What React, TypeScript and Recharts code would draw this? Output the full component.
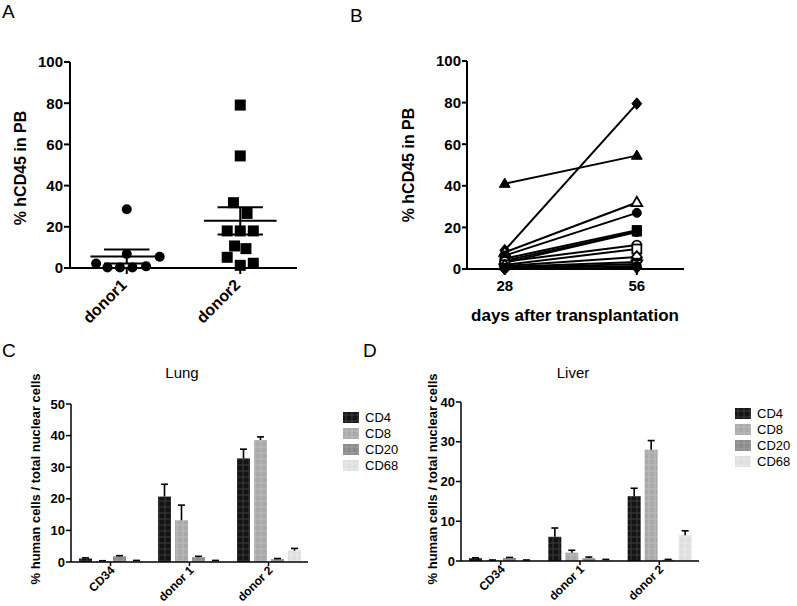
import React from 'react';
import {
  ScatterChart,
  Scatter,
  LineChart,
  Line,
  BarChart,
  Bar,
  XAxis,
  YAxis,
  ReferenceLine,
  Legend,
} from 'recharts';

const FONT = '"Liberation Sans", Arial, Helvetica, sans-serif';

// ---- panel A: % hCD45 per donor (points jittered around the category) ----
const donorNames = ['donor1', 'donor2'];
const donor1Values = [28.5, 6.8, 5.5, 2.2, 0.3, 0.3, 0.3, 0.8];
const donor1Jitter = [0, 0, 0.29, -0.27, -0.17, -0.06, 0.05, 0.17];
const donor2Values = [79.1, 54.4, 31.7, 26.5, 18, 18, 18, 10.7, 9.4, 5.2, 2.3, 1.3];
const donor2Jitter = [0, 0, -0.06, 0.06, -0.115, 0, 0.115, -0.05, 0.05, -0.115, 0.115, 0];
const percentTicks = [0, 20, 40, 60, 80, 100];

// ---- panel B: paired values per mouse at day 28 / day 56 ----
const days = [28, 56];
const mouseDay28 = [9, 41, 8, 6.5, 5, 4, 3, 3.5, 2, 1.5, 1, 0.5, 0.3, 0];
const mouseDay56 = [79.5, 54.5, 32, 27, 18.7, 18, 17.8, 11.5, 9.6, 5.8, 3.4, 2.4, 1.4, 0.6];
const mouseMarker = [
  'diamond', 'triangle', 'triangle', 'circle', 'square', 'square', 'circle',
  'circle', 'square', 'diamond', 'triangleDown', 'triangleDown', 'circle', 'diamond',
];
const mouseFilled = [true, true, false, true, true, true, true, false, false, false, true, false, true, true];

// ---- panels C / D: cell subsets in lung and liver ----
const organCategories = ['CD34', 'donor 1', 'donor 2'];
const subsetNames = ['CD4', 'CD8', 'CD20', 'CD68'];

const lungCD4 = [1.1, 20.7, 32.8];
const lungCD4Err = [0.2, 3.9, 2.9];
const lungCD8 = [0.3, 13.2, 38.6];
const lungCD8Err = [0.1, 4.8, 1.0];
const lungCD20 = [1.8, 1.5, 0.9];
const lungCD20Err = [0.2, 0.3, 0.2];
const lungCD68 = [0.4, 0.4, 3.6];
const lungCD68Err = [0.1, 0.1, 0.7];

const liverCD4 = [0.7, 6.1, 16.3];
const liverCD4Err = [0.1, 2.2, 2.0];
const liverCD8 = [0.2, 2.1, 28.0];
const liverCD8Err = [0.05, 0.6, 2.3];
const liverCD20 = [0.8, 0.7, 0.3];
const liverCD20Err = [0.1, 0.3, 0.1];
const liverCD68 = [0.2, 0.3, 6.5];
const liverCD68Err = [0.05, 0.1, 1.1];

const subsetPattern: Record<string, [string, string]> = {
  CD4: ['#141414', '#3c3c3c'],
  CD8: ['#a9a9a9', '#bdbdbd'],
  CD20: ['#8b8b8b', '#9f9f9f'],
  CD68: ['#dedede', '#ececec'],
};

const mean = (v: number[]) => v.reduce((s, x) => s + x, 0) / v.length;
const sem = (v: number[]) => {
  const m = mean(v);
  const sd = Math.sqrt(v.reduce((s, x) => s + (x - m) ** 2, 0) / (v.length - 1));
  return sd / Math.sqrt(v.length);
};

const donor1Points = donor1Values.map((y, i) => ({ x: 1 + donor1Jitter[i], y }));
const donor2Points = donor2Values.map((y, i) => ({ x: 2 + donor2Jitter[i], y }));
const donorStats = [donor1Values, donor2Values].map((v, i) => ({
  pos: i + 1,
  mean: mean(v),
  sem: sem(v),
}));

const mouseRows = days.map((day, d) => {
  const row: Record<string, number> = { day };
  mouseDay28.forEach((_, m) => {
    row[`m${m}`] = d === 0 ? mouseDay28[m] : mouseDay56[m];
  });
  return row;
});

const buildOrganRows = (series: number[][], errs: number[][]) =>
  organCategories.map((name, i) => {
    const row: Record<string, any> = { name };
    subsetNames.forEach((s, k) => {
      row[s] = series[k][i];
      row[`${s}Err`] = errs[k][i];
    });
    return row;
  });

const lungRows = buildOrganRows(
  [lungCD4, lungCD8, lungCD20, lungCD68],
  [lungCD4Err, lungCD8Err, lungCD20Err, lungCD68Err]
);
const liverRows = buildOrganRows(
  [liverCD4, liverCD8, liverCD20, liverCD68],
  [liverCD4Err, liverCD8Err, liverCD20Err, liverCD68Err]
);

// ---- small drawing helpers ----
const SlantTick = (props: any) => {
  const { x, y, payload, fontSize, dx, dy, formatter } = props;
  const label = formatter ? formatter(payload.value) : payload.value;
  return (
    <g transform={`translate(${x + dx},${y + dy})`}>
      <text
        textAnchor="end"
        transform="rotate(-45)"
        fontSize={fontSize}
        fontWeight={700}
        fontFamily={FONT}
        fill="#000"
      >
        {label}
      </text>
    </g>
  );
};

const Marker = ({ cx, cy, kind, filled }: any) => {
  const r = 4.5;
  const style = { fill: filled ? '#000' : '#fff', stroke: '#000', strokeWidth: filled ? 1 : 1.8 };
  if (cx == null || cy == null) return null;
  switch (kind) {
    case 'square':
      return <rect x={cx - r} y={cy - r} width={r * 2} height={r * 2} {...style} />;
    case 'diamond':
      return (
        <polygon
          points={`${cx},${cy - r * 1.3} ${cx + r * 1.1},${cy} ${cx},${cy + r * 1.3} ${cx - r * 1.1},${cy}`}
          {...style}
        />
      );
    case 'triangle':
      return (
        <polygon
          points={`${cx},${cy - r * 1.25} ${cx + r * 1.2},${cy + r * 0.8} ${cx - r * 1.2},${cy + r * 0.8}`}
          {...style}
        />
      );
    case 'triangleDown':
      return (
        <polygon
          points={`${cx},${cy + r * 1.25} ${cx + r * 1.2},${cy - r * 0.8} ${cx - r * 1.2},${cy - r * 0.8}`}
          {...style}
        />
      );
    default:
      return <circle cx={cx} cy={cy} r={r} {...style} />;
  }
};

const BarWithError = (props: any) => {
  const { x, y, width, height, fill, value, payload, errKey } = props;
  const v = Array.isArray(value) ? value[1] - value[0] : value;
  const err = payload ? payload[errKey] : 0;
  const perUnit = v ? height / v : 0;
  const top = y - err * perUnit;
  const cx = x + width / 2;
  return (
    <g>
      <rect x={x} y={y} width={width} height={height} fill={fill} />
      {err > 0 && (
        <g stroke="#000" strokeWidth={1.6}>
          <line x1={cx} x2={cx} y1={y} y2={top} />
          <line x1={cx - 3.5} x2={cx + 3.5} y1={top} y2={top} />
        </g>
      )}
    </g>
  );
};

const SubsetLegend = ({ payload }: any) => {
  const items = [...(payload || [])].sort(
    (a: any, b: any) => subsetNames.indexOf(a.value) - subsetNames.indexOf(b.value)
  );
  return (
    <div style={{ fontFamily: FONT, fontSize: 13, color: '#000' }}>
      {items.map((p: any) => (
        <div key={p.value} style={{ display: 'flex', alignItems: 'center', height: 16 }}>
          <svg width={16} height={11} style={{ display: 'block' }}>
            <rect width={16} height={11} fill={p.color} />
          </svg>
          <span style={{ marginLeft: 6 }}>{p.value}</span>
        </div>
      ))}
    </div>
  );
};

const axisStroke = { stroke: '#000', strokeWidth: 2 };
const thinAxis = { stroke: '#000', strokeWidth: 1.5 };

function PanelA() {
  return (
    <ScatterChart width={310} height={330} margin={{ top: 62, right: 13, bottom: 22, left: 10 }}>
      <XAxis
        type="number"
        dataKey="x"
        domain={[0.5, 2.5]}
        ticks={[1, 2]}
        height={40}
        axisLine={axisStroke}
        tickLine={axisStroke}
        tickSize={6}
        tickMargin={2}
        tick={(p: any) => (
          <SlantTick {...p} fontSize={16} dx={1} dy={10} formatter={(v: number) => donorNames[v - 1]} />
        )}
      />
      <YAxis
        type="number"
        dataKey="y"
        domain={[0, 100]}
        ticks={percentTicks}
        width={60}
        axisLine={axisStroke}
        tickLine={axisStroke}
        tickSize={6}
        tickMargin={1}
        tick={{ fill: '#000', fontSize: 15, fontWeight: 700, fontFamily: FONT }}
      />
      {donorStats.map((s) => (
        <ReferenceLine
          key={`mean-${s.pos}`}
          segment={[{ x: s.pos - 0.32, y: s.mean }, { x: s.pos + 0.32, y: s.mean }]}
          stroke="#000"
          strokeWidth={2}
        />
      ))}
      {donorStats.map((s) => (
        <ReferenceLine
          key={`semv-${s.pos}`}
          segment={[{ x: s.pos, y: s.mean - s.sem }, { x: s.pos, y: s.mean + s.sem }]}
          stroke="#000"
          strokeWidth={2}
        />
      ))}
      {donorStats.map((s) => (
        <ReferenceLine
          key={`semu-${s.pos}`}
          segment={[{ x: s.pos - 0.2, y: s.mean + s.sem }, { x: s.pos + 0.2, y: s.mean + s.sem }]}
          stroke="#000"
          strokeWidth={2}
        />
      ))}
      {donorStats.map((s) => (
        <ReferenceLine
          key={`seml-${s.pos}`}
          segment={[{ x: s.pos - 0.2, y: s.mean - s.sem }, { x: s.pos + 0.2, y: s.mean - s.sem }]}
          stroke="#000"
          strokeWidth={2}
        />
      ))}
      <Scatter
        data={donor1Points}
        isAnimationActive={false}
        shape={(p: any) => <circle cx={p.cx} cy={p.cy} r={5} fill="#000" />}
      />
      <Scatter
        data={donor2Points}
        isAnimationActive={false}
        shape={(p: any) => <rect x={p.cx - 5.5} y={p.cy - 5.5} width={11} height={11} fill="#000" />}
      />
    </ScatterChart>
  );
}

function PanelB() {
  return (
    <LineChart width={310} height={330} data={mouseRows} margin={{ top: 61, right: 6, bottom: 31, left: 27 }}>
      <XAxis
        type="number"
        dataKey="day"
        domain={[20, 66]}
        ticks={days}
        height={30}
        axisLine={axisStroke}
        tickLine={axisStroke}
        tickSize={6}
        tickMargin={5}
        tick={{ fill: '#000', fontSize: 15, fontWeight: 700, fontFamily: FONT }}
      />
      <YAxis
        type="number"
        domain={[0, 100]}
        ticks={percentTicks}
        width={60}
        axisLine={axisStroke}
        tickLine={axisStroke}
        tickSize={5}
        tickMargin={1}
        tick={{ fill: '#000', fontSize: 15, fontWeight: 700, fontFamily: FONT }}
      />
      {mouseDay28.map((_, m) => (
        <Line
          key={m}
          type="linear"
          dataKey={`m${m}`}
          stroke="#000"
          strokeWidth={2}
          isAnimationActive={false}
          activeDot={false}
          dot={(p: any) => (
            <Marker
              key={`dot-${m}-${p.index}`}
              cx={p.cx}
              cy={p.cy}
              kind={mouseMarker[m]}
              filled={mouseFilled[m]}
            />
          )}
        />
      ))}
    </LineChart>
  );
}

function OrganPanel({ rows, max, margin, legendPos }: any) {
  const ticks = [];
  for (let t = 0; t <= max; t += 10) ticks.push(t);
  return (
    <BarChart
      width={margin.width}
      height={276}
      data={rows}
      barSize={13}
      barGap={4}
      margin={{ top: margin.top, right: margin.right, bottom: margin.bottom, left: margin.left }}
    >
      <XAxis
        dataKey="name"
        height={40}
        interval={0}
        axisLine={thinAxis}
        tickLine={thinAxis}
        tickSize={4}
        tickMargin={3}
        tick={(p: any) => <SlantTick {...p} fontSize={12} dx={5} dy={2} />}
      />
      <YAxis
        type="number"
        domain={[0, max]}
        ticks={ticks}
        width={50}
        axisLine={thinAxis}
        tickLine={thinAxis}
        tickSize={5}
        tickMargin={1}
        tick={{ fill: '#000', fontSize: 13, fontWeight: 700, fontFamily: FONT }}
      />
      <Legend
        layout="vertical"
        align="center"
        verticalAlign="middle"
        wrapperStyle={{ left: legendPos.left, top: legendPos.top, width: 60, height: 70 }}
        content={<SubsetLegend />}
      />
      {subsetNames.map((s) => (
        <Bar
          key={s}
          dataKey={s}
          fill={`url(#pat-${s})`}
          isAnimationActive={false}
          shape={(p: any) => <BarWithError {...p} errKey={`${s}Err`} />}
        />
      ))}
    </BarChart>
  );
}

export default function App() {
  const textStyle = { fontFamily: FONT, fill: '#000' };
  return (
    <div style={{ position: 'absolute', left: 0, top: 0, width: 797, height: 606, background: '#fff' }}>
      <svg width={0} height={0} style={{ position: 'absolute' }}>
        <defs>
          {subsetNames.map((s) => (
            <pattern key={s} id={`pat-${s}`} width={6} height={6} patternUnits="userSpaceOnUse">
              <rect width={6} height={6} fill={subsetPattern[s][0]} />
              <path d="M3 0V6M0 3H6" stroke={subsetPattern[s][1]} strokeWidth={1} />
            </pattern>
          ))}
        </defs>
      </svg>

      <div style={{ position: 'absolute', left: 0, top: 0 }}>
        <PanelA />
      </div>
      <div style={{ position: 'absolute', left: 380, top: 0 }}>
        <PanelB />
      </div>
      <div style={{ position: 'absolute', left: 0, top: 330 }}>
        <OrganPanel
          rows={lungRows}
          max={50}
          margin={{ width: 400, top: 74, right: 92, bottom: 4, left: 21 }}
          legendPos={{ left: 343, top: 79 }}
        />
      </div>
      <div style={{ position: 'absolute', left: 400, top: 330 }}>
        <OrganPanel
          rows={liverRows}
          max={40}
          margin={{ width: 397, top: 72, right: 98, bottom: 5, left: 11 }}
          legendPos={{ left: 335, top: 75 }}
        />
      </div>

      <svg
        width={797}
        height={606}
        style={{ position: 'absolute', left: 0, top: 0, pointerEvents: 'none' }}
      >
        <g style={textStyle} fontSize={19}>
          <text x={2} y={18}>A</text>
          <text x={350} y={22}>B</text>
          <text x={2} y={357}>C</text>
          <text x={363} y={357}>D</text>
        </g>
        <g style={textStyle} fontWeight={700} textAnchor="middle" dominantBaseline="central">
          <text x={20} y={168} fontSize={16} transform="rotate(-90, 20, 168)">% hCD45 in PB</text>
          <text x={408} y={165} fontSize={16} transform="rotate(-90, 408, 165)">% hCD45 in PB</text>
          <text x={35} y={479} fontSize={13} transform="rotate(-90, 35, 479)">
            % human cells / total nuclear cells
          </text>
          <text x={432} y={479} fontSize={13} transform="rotate(-90, 432, 479)">
            % human cells / total nuclear cells
          </text>
        </g>
        <text x={575} y={321} fontSize={17} fontWeight={700} textAnchor="middle" style={textStyle}>
          days after transplantation
        </text>
        <g style={textStyle} fontSize={15} textAnchor="middle">
          <text x={182} y={378}>Lung</text>
          <text x={573} y={378}>Liver</text>
        </g>
      </svg>
    </div>
  );
}
